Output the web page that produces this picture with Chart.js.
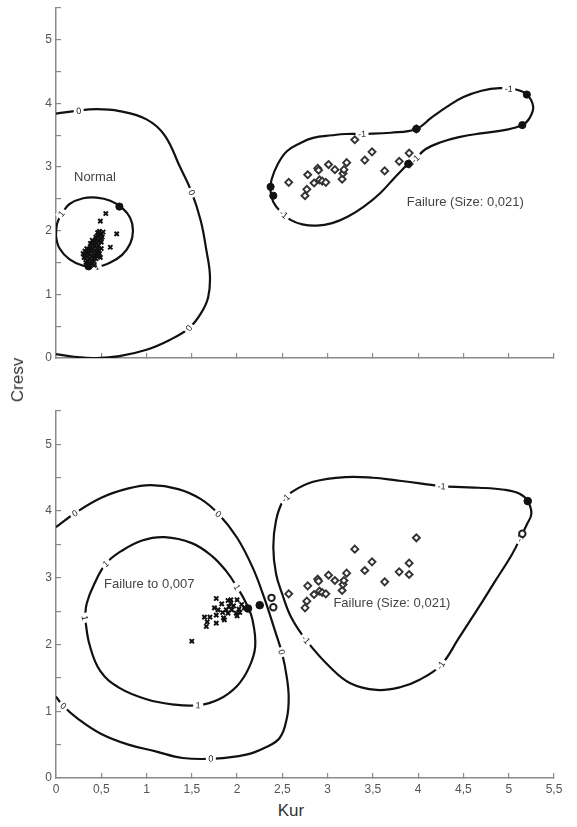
<!DOCTYPE html>
<html>
<head>
<meta charset="utf-8">
<script src="https://cdn.jsdelivr.net/npm/chart.js@4.4.1/dist/chart.umd.min.js"></script>
<style>
  body { margin: 0; background: #fff; width: 577px; height: 827px; position: relative; overflow: hidden; font-family: 'Liberation Sans', Arial, sans-serif; }
  .box { position: absolute; left: 0; width: 577px; }
  #topBox { top: -13px; height: 393px; }
  #botBox { top: 390px; height: 410px; }
  #yTitle { position: absolute; left: 18px; top: 380px; transform: translate(-50%, -50%) rotate(-90deg); font-size: 17px; color: #333; }
  #xTitle { position: absolute; left: 291px; top: 811px; transform: translate(-50%, -50%); font-size: 17px; color: #333; }
</style>
</head>
<body>
<div class="box" id="topBox"><canvas id="topChart"></canvas></div>
<div class="box" id="botBox"><canvas id="botChart"></canvas></div>
<div id="yTitle">Cresv</div>
<div id="xTitle">Kur</div>
<script>
// --- data (Kur, Cresv) ---

// upper panel: contours
const topZero = [[0,3.84],[0.2,3.88],[0.45,3.91],[0.7,3.88],[1.0,3.75],[1.2,3.5],[1.37,3.0],[1.5,2.6],[1.6,2.15],[1.66,1.7],[1.7,1.3],[1.68,0.95],[1.6,0.7],[1.47,0.47],[1.25,0.28],[1.0,0.13],[0.7,0.03],[0.45,0.0],[0.2,0.02],[0,0.06]];
const topOne = [[0.06,2.27],[0.15,2.42],[0.3,2.51],[0.45,2.52],[0.6,2.47],[0.73,2.36],[0.82,2.2],[0.85,2.0],[0.82,1.8],[0.73,1.62],[0.6,1.5],[0.45,1.43],[0.3,1.45],[0.15,1.55],[0.04,1.72],[0.0,1.92],[0.01,2.1],[0.06,2.27]];
const topMinusOne = [[3.38,3.52],[3.7,3.54],[3.98,3.6],[4.15,3.78],[4.32,3.95],[4.5,4.1],[4.7,4.2],[4.9,4.24],[5.08,4.22],[5.2,4.14],[5.27,3.95],[5.23,3.77],[5.15,3.66],[4.95,3.58],[4.69,3.53],[4.45,3.47],[4.25,3.39],[4.08,3.28],[3.97,3.13],[3.89,3.05],[3.75,2.85],[3.58,2.59],[3.4,2.38],[3.22,2.22],[3.05,2.12],[2.88,2.08],[2.72,2.1],[2.59,2.17],[2.48,2.3],[2.4,2.45],[2.37,2.62],[2.38,2.8],[2.45,3.05],[2.55,3.25],[2.7,3.38],[2.84,3.46],[3.05,3.5],[3.2,3.52],[3.38,3.52]];
const topZeroLabels = [[0.25,3.89],[1.5,2.6],[1.47,0.47]];
const topOneLabels = [[0.06,2.27],[0.45,1.43]];
const topMinusOneLabels = [[3.38,3.52],[5.0,4.23],[3.97,3.13],[2.51,2.25]];

// upper panel: samples
const normalPts = [[0.49,2.15],[0.55,2.27],[0.67,1.95],[0.60,1.74],[0.52,1.98],[0.48,1.99],[0.50,1.95],[0.46,1.92],[0.49,1.88],[0.44,1.86],[0.47,1.84],[0.42,1.82],[0.45,1.80],[0.40,1.78],[0.43,1.76],[0.47,1.77],[0.38,1.74],[0.41,1.72],[0.45,1.72],[0.36,1.70],[0.39,1.68],[0.43,1.68],[0.47,1.70],[0.34,1.66],[0.37,1.64],[0.41,1.64],[0.45,1.65],[0.32,1.62],[0.35,1.60],[0.39,1.60],[0.43,1.61],[0.46,1.60],[0.33,1.57],[0.37,1.56],[0.41,1.57],[0.44,1.56],[0.35,1.52],[0.39,1.53],[0.42,1.52],[0.37,1.48],[0.40,1.49],[0.36,1.45],[0.50,1.82],[0.44,1.90],[0.40,1.85],[0.31,1.58],[0.30,1.64],[0.34,1.72],[0.48,1.64],[0.50,1.72],[0.51,1.90],[0.46,1.97],[0.33,1.50],[0.42,1.46],[0.38,1.80],[0.49,1.58],[0.32,1.68]];
const failurePts = [[2.57,2.76],[2.75,2.55],[2.77,2.65],[2.78,2.88],[2.85,2.75],[2.89,2.98],[2.90,2.95],[2.91,2.80],[2.94,2.78],[2.98,2.76],[3.01,3.04],[3.08,2.96],[3.16,2.81],[3.17,2.90],[3.18,2.96],[3.21,3.07],[3.30,3.43],[3.41,3.11],[3.49,3.24],[3.63,2.94],[3.79,3.09],[3.90,3.22],[3.90,3.05],[3.98,3.60]];
const topSupport = [[0.70,2.38],[0.36,1.44],[2.37,2.69],[2.40,2.55],[3.98,3.60],[5.20,4.14],[5.15,3.66],[3.89,3.05]];

// lower panel: contours
const botZero = [[0,3.76],[0.2,3.96],[0.5,4.2],[0.8,4.34],[1.05,4.39],[1.35,4.33],[1.6,4.18],[1.8,3.95],[2.0,3.6],[2.17,3.16],[2.3,2.7],[2.42,2.2],[2.5,1.85],[2.55,1.5],[2.57,1.2],[2.55,0.9],[2.47,0.6],[2.3,0.45],[2.1,0.35],[1.75,0.29],[1.4,0.3],[1.1,0.4],[0.8,0.5],[0.5,0.66],[0.25,0.88],[0.08,1.08],[0,1.22]];
const botOne = [[0.32,2.4],[0.37,2.0],[0.49,1.6],[0.7,1.35],[1.0,1.18],[1.3,1.1],[1.57,1.09],[1.8,1.18],[2.0,1.38],[2.13,1.65],[2.2,1.97],[2.17,2.37],[2.1,2.62],[2.0,2.86],[1.88,3.1],[1.72,3.33],[1.5,3.52],[1.2,3.61],[0.95,3.56],[0.72,3.4],[0.55,3.21],[0.42,2.9],[0.34,2.62],[0.32,2.4]];
const botMinusOne = [[4.26,4.37],[4.67,4.35],[4.95,4.32],[5.12,4.26],[5.21,4.15],[5.25,3.96],[5.2,3.8],[5.15,3.66],[5.04,3.36],[4.85,2.95],[4.67,2.56],[4.45,2.1],[4.25,1.69],[4.01,1.47],[3.8,1.36],[3.54,1.32],[3.25,1.42],[3.02,1.67],[2.76,2.07],[2.6,2.4],[2.5,2.75],[2.43,3.06],[2.4,3.46],[2.43,3.86],[2.51,4.16],[2.62,4.3],[2.84,4.44],[3.2,4.51],[3.5,4.5],[3.76,4.46],[4.0,4.42],[4.26,4.37]];
const botZeroLabels = [[0.21,3.96],[1.79,3.95],[2.5,1.89],[1.71,0.29],[0.08,1.08]];
const botOneLabels = [[0.32,2.4],[0.55,3.21],[1.57,1.09],[2.0,2.86]];
const botMinusOneLabels = [[4.26,4.37],[2.54,4.19],[2.76,2.07],[4.25,1.69],[5.17,3.57]];

// lower panel: samples
const drift007Pts = [[1.50,2.05],[1.77,2.69],[1.64,2.41],[1.66,2.27],[1.67,2.34],[1.70,2.41],[1.77,2.32],[1.77,2.44],[1.75,2.55],[1.83,2.61],[1.86,2.37],[1.88,2.52],[1.90,2.66],[1.90,2.47],[1.91,2.57],[1.93,2.62],[2.00,2.67],[1.99,2.47],[2.00,2.43],[2.02,2.53],[2.05,2.60],[2.08,2.55],[1.94,2.52],[1.84,2.48],[1.79,2.52],[1.93,2.67],[1.85,2.40],[1.96,2.58],[2.03,2.48]];
const botSupportFilled = [[2.12,2.54],[2.25,2.59],[5.21,4.15]];
const botSupportOpen = [[2.38,2.70],[2.40,2.56],[5.15,3.66]];

// text notes
const topNotes = [['Normal', 0.43, 2.83], ['Failure (Size: 0,021)', 4.52, 2.45]];
const botNotes = [['Failure to 0,007', 1.03, 2.9], ['Failure (Size: 0,021)', 3.71, 2.62]];

const xy = arr => arr.map(p => ({ x: p[0], y: p[1] }));

// contour level labels drawn on the lines with a white box behind
const contourLabels = {
  id: 'contourLabels',
  afterDatasetDraw(chart, args) {
    const ds = chart.data.datasets[args.index];
    if (!ds.labelAt) return;
    const { ctx, scales: { x, y } } = chart;
    const pts = ds.data.map(p => [x.getPixelForValue(p.x), y.getPixelForValue(p.y)]);
    ctx.save();
    ctx.font = '9px "Liberation Sans", Arial';
    ds.labelAt.forEach(([lx, ly]) => {
      const px = x.getPixelForValue(lx), py = y.getPixelForValue(ly);
      // snap to nearest segment
      let best = null, bd = Infinity;
      for (let i = 0; i < pts.length - 1; i++) {
        const a = pts[i], b = pts[i + 1];
        const dx = b[0] - a[0], dy = b[1] - a[1];
        const len = dx * dx + dy * dy || 1;
        let t = ((px - a[0]) * dx + (py - a[1]) * dy) / len;
        t = Math.max(0, Math.min(1, t));
        const qx = a[0] + t * dx, qy = a[1] + t * dy;
        const d = (qx - px) ** 2 + (qy - py) ** 2;
        if (d < bd) { bd = d; best = { qx, qy, ang: Math.atan2(dy, dx) }; }
      }
      let ang = best.ang;
      if (ang > Math.PI / 2) ang -= Math.PI;
      if (ang < -Math.PI / 2) ang += Math.PI;
      ctx.save();
      ctx.translate(best.qx, best.qy);
      ctx.rotate(ang);
      const w = ctx.measureText(ds.contourLabel).width + 5;
      ctx.fillStyle = '#fff';
      ctx.fillRect(-w / 2, -4, w, 8);
      ctx.fillStyle = '#222';
      ctx.textAlign = 'center';
      ctx.textBaseline = 'middle';
      ctx.fillText(ds.contourLabel, 0, 0.5);
      ctx.restore();
    });
    ctx.restore();
  }
};

const notesPlugin = {
  id: 'notes',
  afterDraw(chart, args, opts) {
    const { ctx, scales: { x, y } } = chart;
    ctx.save();
    ctx.font = '13px "Liberation Sans", Arial';
    ctx.fillStyle = '#444';
    ctx.textAlign = 'center';
    ctx.textBaseline = 'middle';
    opts.items.forEach(([t, vx, vy]) => ctx.fillText(t, x.getPixelForValue(vx), y.getPixelForValue(vy)));
    ctx.restore();
  }
};

function contour(points, label, labelAt) {
  return {
    data: xy(points), showLine: true, borderColor: '#111', borderWidth: 2.2,
    pointRadius: 0, tension: 0.4, order: 2, contourLabel: label, labelAt: labelAt
  };
}

function markers(points, style, radius, fill, border, bw) {
  return {
    data: xy(points), showLine: false, pointStyle: style, pointRadius: radius,
    backgroundColor: fill, borderColor: border, borderWidth: bw, order: 1
  };
}

// both panels share the same box layout: 21px above the plot, 22px below
function makePanel(id, datasets, notes, showXLabels) {
  new Chart(document.getElementById(id), {
    type: 'scatter',
    data: { datasets: datasets },
    plugins: [contourLabels, notesPlugin],
    options: {
      responsive: true,
      maintainAspectRatio: false,
      animation: false,
      layout: { autoPadding: false, padding: { top: 21, right: 23, left: 0, bottom: 0 } },
      plugins: { legend: { display: false }, tooltip: { enabled: false }, notes: { items: notes } },
      scales: {
        x: {
          type: 'linear', min: 0, max: 5.5,
          // ticks point inward, as in the original
          grid: { drawOnChartArea: false, drawTicks: true, tickLength: -5, color: '#8a8a8a', lineWidth: 1.2 },
          border: { color: '#8a8a8a', width: 1.5 },
          ticks: {
            stepSize: 0.5, color: showXLabels ? '#555' : 'rgba(0,0,0,0)', padding: 9,
            font: { family: '"Liberation Sans", Arial', size: 12 },
            callback: v => String(v).replace('.', ',')
          },
          afterFit: s => { s.height = 22; }
        },
        y: {
          min: 0, max: 5.5,
          grid: { drawOnChartArea: false, drawTicks: true, tickLength: -5, color: '#8a8a8a', lineWidth: 1.2 },
          border: { color: '#8a8a8a', width: 1.5 },
          ticks: {
            stepSize: 0.5, color: '#555', padding: 9,
            font: { family: '"Liberation Sans", Arial', size: 12 },
            callback: v => Number.isInteger(v) ? String(v) : ''
          },
          afterFit: s => { s.width = 56; }
        }
      }
    }
  });
}

makePanel('topChart', [
  markers(topSupport, 'circle', 3.6, '#111', '#111', 1),
  markers(normalPts, 'crossRot', 3, '#111', '#111', 2),
  markers(failurePts, 'rectRot', 3.5, '#fff', '#333', 1.9),
  contour(topZero, '0', topZeroLabels),
  contour(topOne, '1', topOneLabels),
  contour(topMinusOne, '-1', topMinusOneLabels)
], topNotes, false);

makePanel('botChart', [
  markers(botSupportFilled, 'circle', 3.8, '#111', '#111', 1),
  markers(botSupportOpen, 'circle', 3.2, '#fff', '#222', 2),
  markers(drift007Pts, 'crossRot', 3, '#111', '#111', 2),
  markers(failurePts, 'rectRot', 3.5, '#fff', '#333', 1.9),
  contour(botZero, '0', botZeroLabels),
  contour(botOne, '1', botOneLabels),
  contour(botMinusOne, '-1', botMinusOneLabels)
], botNotes, true);
</script>
</body>
</html>
